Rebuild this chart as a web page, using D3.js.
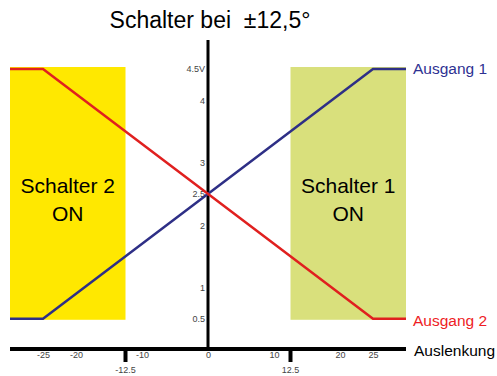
<!DOCTYPE html>
<html lang="de">
  <head>
    <meta charset="utf-8">
    <title>Schalter bei ±12,5°</title>
    <script src="https://cdnjs.cloudflare.com/ajax/libs/d3/7.8.0/d3.min.js"></script>
    <style>
      body { margin: 0; background: #fff; }
      svg { font-family: "Liberation Sans", Arial, sans-serif; }
      .tick text { fill: #444; font-size: 9px; }
    </style>
  </head>
  <body>
    <div id="chart"></div>
    <script>
      // Auslenkung (degrees) and output voltages
      var auslenkung = [-30, -25, 25, 30];
      var ausgang1 = [0.5, 0.5, 4.5, 4.5];
      var ausgang2 = [4.5, 4.5, 0.5, 0.5];

      // switch zones
      var zonen = [
        { name: "Schalter 2", from: -30, to: -12.5, color: "#ffe800" },
        { name: "Schalter 1", from: 12.5, to: 30, color: "#d9e07c" }
      ];
      var schaltpunkte = [-12.5, 12.5];
      var schaltLabels = ["-12.5", "12.5"];

      var xTicks = [-25, -20, -10, 0, 10, 20, 25];
      var yTicks = [0.5, 1, 2, 2.5, 3, 4, 4.5];
      var yTickLabels = ["0.5", "1", "2", "2.5", "3", "4", "4.5V"];

      var width = 497, height = 376;

      var svg = d3.select("#chart").append("svg")
          .attr("width", width)
          .attr("height", height);

      var x = d3.scaleLinear().domain([-30, 30]).range([10, 406]);
      var y = d3.scaleLinear().domain([0, 4.5]).range([350, 69]);

      // zones
      svg.selectAll(".zone")
        .data(zonen)
        .enter().append("rect")
          .attr("class", "zone")
          .attr("x", function(d) { return x(d.from); })
          .attr("y", y(4.5) - 2)
          .attr("width", function(d) { return x(d.to) - x(d.from); })
          .attr("height", y(0.5) - y(4.5) + 3)
          .attr("fill", function(d) { return d.color; });

      svg.selectAll(".zone-label")
        .data(zonen)
        .enter().append("text")
          .attr("y", 193)
          .attr("text-anchor", "middle")
          .style("font-size", "21px")
          .each(function(d) {
            var cx = (x(d.from) + x(d.to)) / 2;
            var t = d3.select(this);
            t.append("tspan").attr("x", cx).text(d.name);
            t.append("tspan").attr("x", cx).attr("dy", 28).text("ON");
          });

      // axes lines
      svg.append("line")
        .attr("x1", x(-30)).attr("x2", x(30))
        .attr("y1", 349).attr("y2", 349)
        .attr("stroke", "#000").attr("stroke-width", 4);
      svg.append("line")
        .attr("x1", x(0)).attr("x2", x(0))
        .attr("y1", 40).attr("y2", 349)
        .attr("stroke", "#000").attr("stroke-width", 3);

      // switch ticks
      svg.selectAll(".schalt")
        .data(schaltpunkte)
        .enter().append("line")
          .attr("x1", function(d) { return x(d); })
          .attr("x2", function(d) { return x(d); })
          .attr("y1", 349).attr("y2", 362)
          .attr("stroke", "#000").attr("stroke-width", 4);
      svg.selectAll(".schalt-label")
        .data(schaltpunkte)
        .enter().append("text")
          .attr("x", function(d) { return x(d); })
          .attr("y", 373)
          .attr("text-anchor", "middle")
          .style("font-size", "9px")
          .attr("fill", "#444")
          .text(function(d, i) { return schaltLabels[i]; });

      // tick labels
      var xAxis = svg.append("g")
        .attr("transform", "translate(0,352)")
        .call(d3.axisBottom(x).tickValues(xTicks).tickSize(0).tickPadding(0)
          .tickFormat(function(d) { return String(d); }));
      xAxis.select(".domain").remove();
      xAxis.selectAll("text").attr("dy", "0.71em");

      var yAxis = svg.append("g")
        .attr("transform", "translate(" + (x(0) - 3) + ",0)")
        .call(d3.axisLeft(y).tickValues(yTicks).tickSize(0).tickPadding(0)
          .tickFormat(function(d, i) { return yTickLabels[i]; }));
      yAxis.select(".domain").remove();

      // outputs
      var line1 = d3.line()
        .x(function(d, i) { return x(auslenkung[i]); })
        .y(function(d) { return y(d); });

      svg.append("path")
        .datum(ausgang1)
        .attr("d", line1)
        .attr("fill", "none")
        .attr("stroke", "#2e2f86")
        .attr("stroke-width", 2.5);

      svg.append("path")
        .datum(ausgang2)
        .attr("d", line1)
        .attr("fill", "none")
        .attr("stroke", "#e0201f")
        .attr("stroke-width", 2.5);

      // labels
      svg.append("text")
        .attr("x", 413).attr("y", y(ausgang1[3]) + 5)
        .attr("fill", "#2e3192")
        .style("font-size", "15.5px")
        .text("Ausgang 1");
      svg.append("text")
        .attr("x", 413).attr("y", y(ausgang2[3]) + 7)
        .attr("fill", "#ee1c24")
        .style("font-size", "15.5px")
        .text("Ausgang 2");
      svg.append("text")
        .attr("x", 414).attr("y", 356)
        .attr("fill", "#000")
        .style("font-size", "15.5px")
        .text("Auslenkung");

      svg.append("text")
        .attr("x", 210).attr("y", 28)
        .attr("text-anchor", "middle")
        .style("font-size", "23px")
        .text("Schalter bei \u00a0\u00b112,5\u00b0");
    </script>
  </body>
</html>
